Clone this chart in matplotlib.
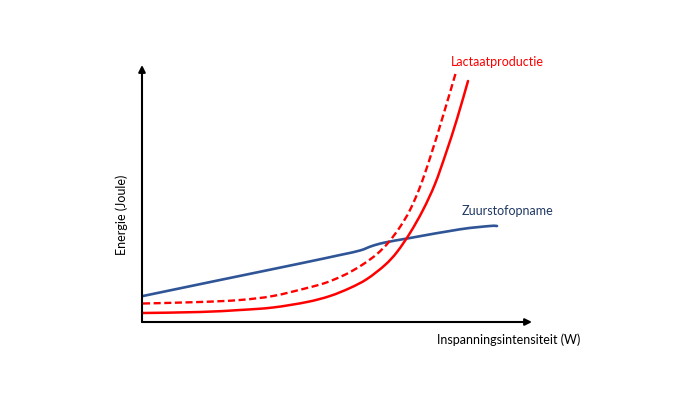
import matplotlib
matplotlib.use("Agg")
import matplotlib.pyplot as plt
from matplotlib.path import Path
from matplotlib.patches import PathPatch
import numpy as np

plt.rcParams['font.family'] = ['Lato', 'DejaVu Sans']

# Schematic data in pixel-like units
# (intensity: 142 = origin, 532 = arrow tip; energy: 322 = origin, 65 = arrow tip)
lact_solid_x = [143, 200, 240, 273, 307, 330, 350, 367, 385, 397, 410, 423, 435, 446, 457, 468]
lact_solid_y = [313, 312, 310, 307.5, 302, 296, 288, 279, 265, 252, 233, 210, 184, 153, 119, 81]

lact_dash_x = [143, 200, 240, 273, 307, 325, 340, 352, 365, 377, 388, 400, 410, 420, 430, 443, 456]
lact_dash_y = [303.5, 302, 300, 296, 288, 283, 277, 271, 263, 254, 243, 227, 210, 187, 158, 116, 72]

o2_x = [143, 220, 300, 340, 360, 372, 385, 410, 460, 490, 497]
o2_y = [296, 280, 263.5, 255, 250.5, 246, 242.5, 238, 229.3, 226, 226]

label_lact = "Lactaatproductie"
label_o2 = "Zuurstofopname"
xlabel = "Inspanningsintensiteit (W)"
ylabel = "Energie (Joule)"

RED = "#FF0000"
BLUE = "#2F5597"
NAVY = "#203864"


def smooth_path(xs, ys):
    """Catmull-Rom style cubic Bezier path through the given points."""
    pts = np.column_stack([xs, ys]).astype(float)
    n = len(pts)
    verts = [pts[0]]
    codes = [Path.MOVETO]
    for i in range(n - 1):
        p0 = pts[i - 1] if i > 0 else pts[i]
        p1 = pts[i]
        p2 = pts[i + 1]
        p3 = pts[i + 2] if i + 2 < n else pts[i + 1]
        c1 = p1 + (p2 - p0) / 6.0
        c2 = p2 - (p3 - p1) / 6.0
        verts += [c1, c2, p2]
        codes += [Path.CURVE4] * 3
    return Path(verts, codes)


fig = plt.figure(figsize=(7.0, 3.94), dpi=100)
ax = fig.add_axes([142 / 700, (394 - 322) / 394, (532 - 142) / 700, (322 - 65) / 394])
ax.set_xlim(142, 532)
ax.set_ylim(322, 65)
ax.axis("off")

ax.add_patch(PathPatch(smooth_path(o2_x, o2_y), fill=False, edgecolor=BLUE, lw=1.9,
                       capstyle='round', joinstyle='round'))
ax.add_patch(PathPatch(smooth_path(lact_dash_x, lact_dash_y), fill=False, edgecolor=RED, lw=1.7,
                       linestyle=(0, (3, 1.5))))
ax.add_patch(PathPatch(smooth_path(lact_solid_x, lact_solid_y), fill=False, edgecolor=RED, lw=1.8,
                       capstyle='round'))

arrow_kw = dict(arrowstyle='-|>', color='black', lw=1.5, mutation_scale=10,
                shrinkA=0, shrinkB=0)
ax.annotate("", xy=(1.0, 0), xytext=(0, 0), xycoords='axes fraction',
            textcoords='axes fraction', arrowprops=arrow_kw, annotation_clip=False)
ax.annotate("", xy=(0, 1.0), xytext=(0, 0), xycoords='axes fraction',
            textcoords='axes fraction', arrowprops=arrow_kw, annotation_clip=False)

def fx(px):
    return px / 700

def fy(py):
    return 1 - py / 394

fig.text(fx(497), fy(62), label_lact, color=RED, fontsize=9, ha='center', va='center')
fig.text(fx(507), fy(211), label_o2, color=NAVY, fontsize=9, ha='center', va='center')
fig.text(fx(509), fy(340), xlabel, color='black', fontsize=9, ha='center', va='center')
fig.text(fx(122), fy(215), ylabel, color='black', fontsize=9, ha='center', va='center',
         rotation=90)

fig.savefig("out.png", dpi=100)
